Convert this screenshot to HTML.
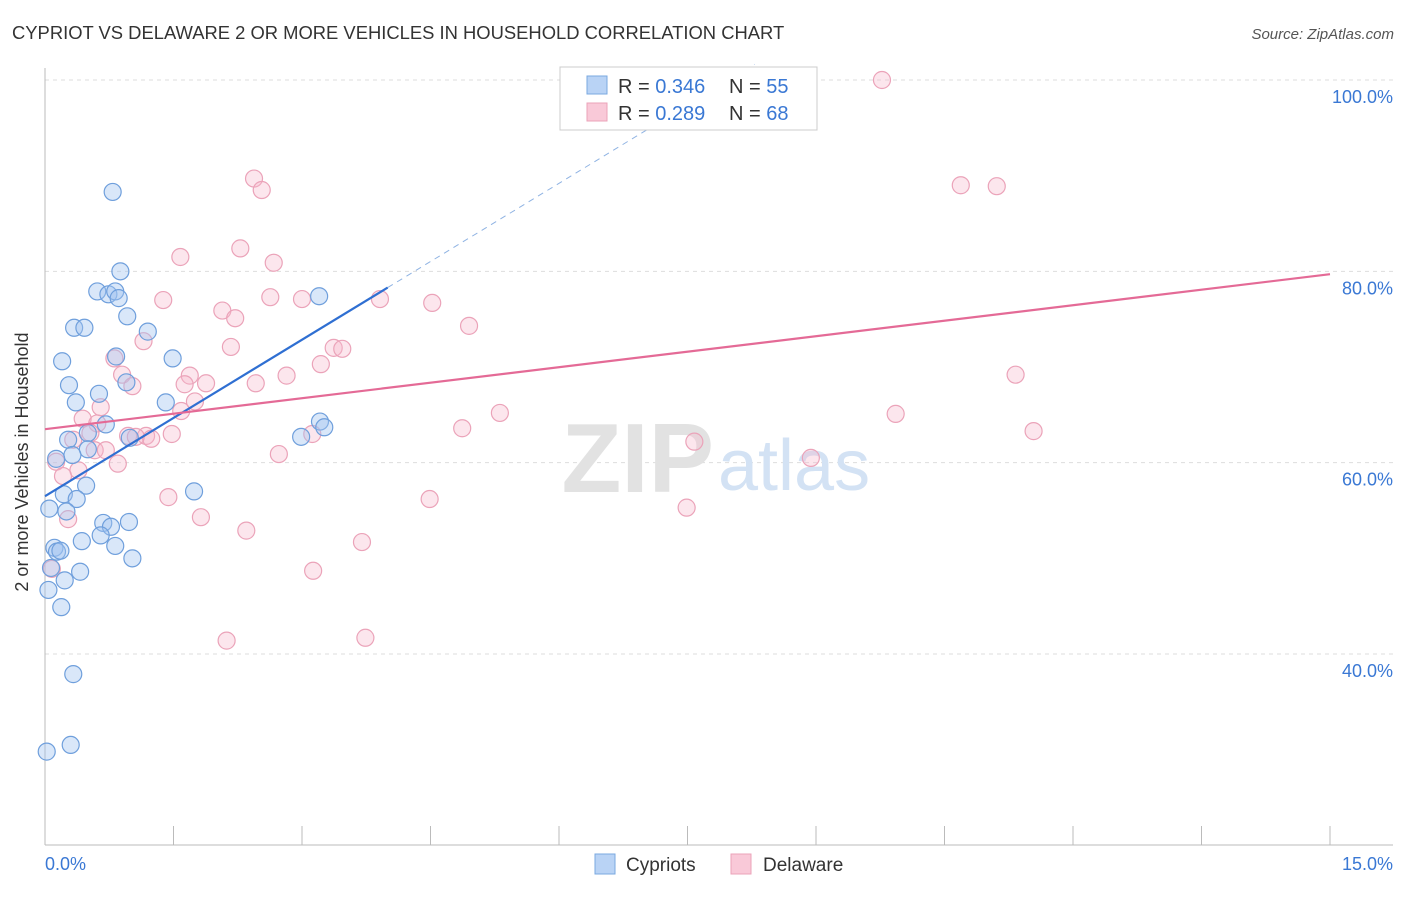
<!DOCTYPE html>
<html><head><meta charset="utf-8"><style>
body{margin:0;background:#fff;font-family:"Liberation Sans",sans-serif;}
svg text{font-family:"Liberation Sans",sans-serif;}
</style></head><body>
<svg width="1406" height="892" viewBox="0 0 1406 892">
<text x="12" y="39" font-size="18.4" fill="#333">CYPRIOT VS DELAWARE 2 OR MORE VEHICLES IN HOUSEHOLD CORRELATION CHART</text>
<text x="1394" y="39" font-size="15" fill="#555" text-anchor="end" font-style="italic">Source: ZipAtlas.com</text>
<g id="grid"></g>
<text x="714" y="492" font-size="98" fill="#e2e2e2" text-anchor="end" font-family="Liberation Serif" font-weight="bold">ZIP</text>
<text x="718" y="490" font-size="72" fill="#d3e2f4">atlas</text>
<g id="pts"></g>
<g id="lines"></g>
<text x="22" y="456" font-size="18" fill="#333" text-anchor="middle" transform="rotate(-90 28 456)">2 or more Vehicles in Household</text>
<text x="45" y="870" font-size="18" fill="#3a78d4">0.0%</text>
<text x="1393" y="870" font-size="18" fill="#3a78d4" text-anchor="end">15.0%</text>
<g>
<rect x="560" y="67" width="257" height="63" fill="#fff" stroke="#ccc"/>
<rect x="587" y="76" width="20" height="18" fill="#b9d3f5" stroke="#7aa8e0"/>
<rect x="587" y="103" width="20" height="18" fill="#f9c9d8" stroke="#eba3b9"/>
<text x="618" y="93" font-size="20" fill="#333">R = <tspan fill="#3a78d4">0.346</tspan></text>
<text x="729" y="93" font-size="20" fill="#333">N = <tspan fill="#3a78d4">55</tspan></text>
<text x="618" y="120" font-size="20" fill="#333">R = <tspan fill="#3a78d4">0.289</tspan></text>
<text x="729" y="120" font-size="20" fill="#333">N = <tspan fill="#3a78d4">68</tspan></text>
</g>
<g>
<rect x="595" y="854" width="20" height="20" fill="#b9d3f5" stroke="#7aa8e0"/>
<text x="626" y="871" font-size="19" fill="#333">Cypriots</text>
<rect x="731" y="854" width="20" height="20" fill="#f9c9d8" stroke="#eba3b9"/>
<text x="763" y="871" font-size="19" fill="#333">Delaware</text>
</g>
</svg>
<script>
const blueX=[0.79,0.88,0.61,0.74,0.82,0.86,3.20,0.96,0.34,0.46,1.20,0.20,0.83,1.49,0.28,0.95,0.63,0.36,1.41,0.71,3.21,3.26,2.99,0.50,0.27,0.99,0.50,0.32,0.13,0.48,0.22,0.37,1.74,0.05,0.25,0.68,0.77,0.98,0.65,0.43,0.82,0.11,0.14,0.18,1.02,0.41,0.07,0.23,0.04,0.19,0.33,0.30,0.02];
const blueY=[88.3,80.0,77.9,77.6,77.9,77.2,77.4,75.3,74.1,74.1,73.7,70.6,71.1,70.9,68.1,68.4,67.2,66.3,66.3,64.0,64.3,63.7,62.7,63.1,62.4,62.6,61.4,60.8,60.4,57.6,56.7,56.2,57.0,55.2,54.9,53.7,53.3,53.8,52.4,51.8,51.3,51.1,50.7,50.8,50.0,48.6,49.0,47.7,46.7,44.9,37.9,30.5,29.8];
const pinkX=[9.77,2.44,2.53,10.69,11.11,2.28,1.58,2.67,2.63,1.38,3.00,3.91,4.52,2.07,2.22,4.95,1.15,2.17,3.37,3.47,0.81,3.22,11.33,0.90,1.69,2.82,1.63,1.88,1.02,2.46,1.75,0.65,1.59,5.31,9.93,0.44,0.61,4.87,11.54,0.53,1.48,3.12,0.97,1.18,1.06,1.24,0.33,7.58,0.58,0.71,2.73,8.94,0.13,0.85,0.39,0.21,1.44,4.49,7.49,1.82,0.27,2.35,3.70,3.13,0.08,2.12,3.74];
const pinkY=[100,89.7,88.5,89.0,88.9,82.4,81.5,80.9,77.3,77.0,77.1,77.1,76.7,75.9,75.1,74.3,72.7,72.1,72.0,71.9,70.9,70.3,69.2,69.2,69.1,69.1,68.2,68.3,68.0,68.3,66.4,65.8,65.4,65.2,65.1,64.6,64.1,63.6,63.3,63.1,63.0,63.0,62.8,62.8,62.7,62.5,62.4,62.2,61.3,61.3,60.9,60.5,60.1,59.9,59.2,58.6,56.4,56.2,55.3,54.3,54.1,52.9,51.7,48.7,48.9,41.4,41.7];
const yTicks=[100,80,60,40];
const xTicks=[0,1.5,3,4.5,6,7.5,9,10.5,12,13.5,15];
const blueTrend=[56.5,5.45]; // intercept, slope
const pinkTrend=[63.5,1.08];
const sx=v=>45+v*1285/15;
const sy=v=>80+(100-v)*9.567;
const NS='http://www.w3.org/2000/svg';
function mk(tag,attrs,parent){const e=document.createElementNS(NS,tag);for(const k in attrs)e.setAttribute(k,attrs[k]);parent.appendChild(e);return e;}
const grid=document.getElementById('grid');
yTicks.forEach(t=>{
 const l=mk('line',{x1:45,x2:1393,y1:sy(t),y2:sy(t),stroke:'#ddd','stroke-dasharray':'4 4'},grid);
 
 
 const tx=mk('text',{x:1393,y:sy(t)+23,'font-size':18,fill:'#3a78d4','text-anchor':'end'},grid);
 tx.textContent=t.toFixed(1)+'%';
 
 
});
const ax=mk('line',{x1:45,x2:45,y1:68,y2:845,stroke:'#bbb'},grid);


const bx=mk('line',{x1:45,x2:1393,y1:845,y2:845,stroke:'#bbb'},grid);


xTicks.forEach(t=>{
 const l=mk('line',{x1:sx(t),x2:sx(t),y1:826,y2:845,stroke:'#bbb'},grid);
 
 
});
const pts=document.getElementById('pts');
pinkX.forEach((x,i)=>{
 const c=mk('circle',{cx:sx(x),cy:sy(pinkY[i]),r:8.5,fill:'rgba(246,182,202,0.35)',stroke:'#eba3b9','stroke-width':1.2},pts);
 
 
});
blueX.forEach((x,i)=>{
 const c=mk('circle',{cx:sx(x),cy:sy(blueY[i]),r:8.5,fill:'rgba(160,196,240,0.4)',stroke:'#6f9fdc','stroke-width':1.2},pts);
 
 
});
const lines=document.getElementById('lines');
const bt=x=>blueTrend[0]+blueTrend[1]*x, pt=x=>pinkTrend[0]+pinkTrend[1]*x;
const xEndB=(100-blueTrend[0])/blueTrend[1];
const bd=mk('line',{x1:sx(4),y1:sy(bt(4)),x2:sx(xEndB+0.3),y2:sy(bt(xEndB+0.3)),stroke:'#8fb3e3','stroke-width':1,'stroke-dasharray':'6 5'},lines);


const bl=mk('line',{x1:sx(0),y1:sy(bt(0)),x2:sx(4),y2:sy(bt(4)),stroke:'#2f6fd2','stroke-width':2.2},lines);


const pl=mk('line',{x1:sx(0),y1:sy(pt(0)),x2:sx(15),y2:sy(pt(15)),stroke:'#e46a96','stroke-width':2.2},lines);


</script>
</body></html>
